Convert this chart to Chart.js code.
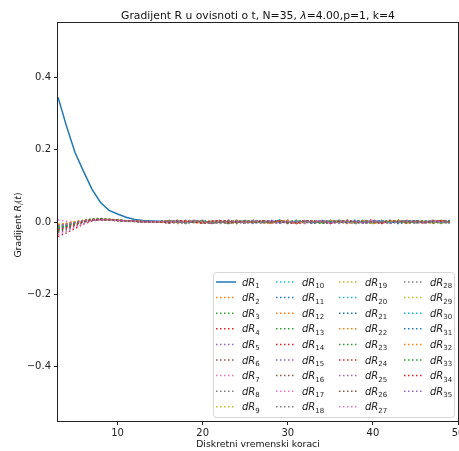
<!DOCTYPE html>
<html>
<head>
<meta charset="utf-8">
<script src="https://cdn.jsdelivr.net/npm/chart.js@4.4.1/dist/chart.umd.min.js"></script>
<style>
  html, body { margin: 0; padding: 0; background: #fff; }
  canvas { display: block; }
</style>
</head>
<body>
<canvas id="gradChart" width="459" height="451"></canvas>
<script>
// vremenski koraci (x os)
const steps = [3,4,5,6,7,8,9,10,11,12,13,14,15,16,17,18,19,20,21,22,23,24,25,26,
  27,28,29,30,31,32,33,34,35,36,37,38,39,40,41,42,43,44,45,46,47,48,49];
const xTicks = [10, 20, 30, 40, 50];
const yTicks = [-0.4, -0.2, 0, 0.2, 0.4];

// gradijenti dR_i(t), procitano sa slike
const dR1 = [.345,.265,.192,.14,.09,.054,.032,.022,.013,.007,.004,.003,.002,
  .001,.001,0,.001,0,.001,0,0,.001,0, 0,.001,0,0,.001,0,0,-.001,0,.001, 0,0,.001,0,0,-.001,0,0,.001,0, 0,.001,0,0];
const dR2 = [-.012,-.007,-.002,.003,.006,.007,.006,.004,.003,.002,.002,.001,0,
  .002,-.002,0,.004,-.002,.002,0,-.004,.002,0, .002,-.002,.004,0,-.002,.002,0,.002,-.004,0, .002,.004,-.002,0,.002,-.002,0,.004,-.002,.002, 0,-.002,.002,0];
const dR3 = [-.018,-.012,-.004,.004,.009,.01,.008,.005,.003,.002,.001,.001,.001,
  0,.004,-.002,.002,-.004,0,.002,.004,0,-.002, .002,0,-.004,.002,.004,-.002,0,.002,-.002,.004, 0,-.002,.002,-.004,0,.004,.002,-.002,0,.002, -.002,.004,0,-.002];
const dR4 = [-.04,-.03,-.018,-.006,.003,.007,.007,.005,.003,.002,.001,.001,0,
  .004,0,-.002,.002,.004,-.004,0,.002,-.002,.004, .002,-.002,0,.004,0,-.004,.002,0,.004,-.002, .002,0,-.004,.002,.004,0,-.002,.002,.004,0, -.002,.002,.004,0];
const dR5 = [-.03,-.022,-.012,-.002,.004,.007,.006,.005,.003,.002,.001,.001,.001,
  -.002,.002,0,.004,-.002,0,.002,-.004,.002,.002, 0,.004,-.002,.002,0,-.002,.004,0,.002,-.004, .002,0,.002,-.002,.004,0,-.002,.002,0,.004, -.002,0,.002,-.002];
const dR6 = [-.015,-.01,-.003,.003,.006,.008,.006,.004,.003,.002,.001,0,.001,
  .002,0,-.004,.002,.002,0,-.002,.004,0,.002, -.002,.002,0,-.004,.002,.004,0,-.002,.002,0, .004,-.002,0,.002,-.004,.002,0,.002,-.002,.004, 0,.002,-.002,0];
const dR7 = [.006,.002,.001,.004,.006,.006,.005,.004,.002,.001,.001,.001,0,
  .004,-.002,.002,0,-.002,.004,.002,-.004,0,.002, .004,0,-.002,.002,0,.002,-.004,.004,0,-.002, .002,.002,-.002,0,.004,-.004,.002,0,.002,-.002, .004,0,-.002,.002];
const dR8 = [-.01,-.006,-.001,.004,.007,.007,.005,.004,.002,.002,.001,.001,0,
  -.004,.002,.002,0,-.002,.004,0,.002,-.002,0, .004,-.002,.002,0,.002,-.004,0,.004,.002,-.002, 0,.002,-.004,.004,0,.002,-.002,0,.002,.004, -.002,.002,0,-.004];
const dR9 = [-.008,-.005,0,.004,.006,.007,.006,.004,.003,.001,.001,.001,.001,
  .002,.004,-.002,0,.002,-.002,.004,0,-.004,.002, 0,.002,.004,-.002,0,.002,-.002,.004,0,0, -.002,.004,.002,0,-.004,.002,0,.004,-.002,.002, 0,.004,-.002,.002];
const dR10 = [-.014,-.009,-.003,.003,.006,.007,.006,.004,.003,.002,.001,.001,0,
  0,-.002,.004,.002,0,-.004,.002,.002,0,.004, -.002,0,.002,-.004,.004,.002,0,-.002,.004,0, .002,-.002,.006,0,-.002,.002,.004,0,-.002,.002, .004,-.002,0,.002];
const dR11 = [-.011,-.007,-.002,.003,.006,.007,.005,.004,.002,.002,.001,.001,.001,
  .002,-.004,0,.002,.004,-.002,0,.002,-.002,.002, .004,0,-.004,.002,0,.004,-.002,.002,0,-.002, .004,0,.002,-.002,0,.002,-.004,.004,0,.002, -.002,0,.004,-.002];
const dR12 = [-.02,-.014,-.006,.002,.006,.008,.007,.005,.003,.002,.001,.001,0,
  .004,0,.002,-.002,-.004,.002,.004,0,.002,-.002, 0,.004,-.004,.002,.002,-.002,0,.004,-.002,.002, 0,-.004,.002,.004,0,-.002,.002,0,.004,-.002, .002,-.004,.002,0];
const dR13 = [-.016,-.011,-.004,.003,.008,.009,.007,.005,.003,.002,.001,.001,.001,
  -.002,.002,.004,0,-.002,.002,-.004,.002,.004,0, -.002,.002,0,.004,-.002,0,.002,-.004,.002,.004, 0,-.002,.004,0,.002,-.004,.002,.004,0,-.002, .002,0,-.002,.004];
const dR14 = [-.009,-.005,-.001,.004,.006,.007,.006,.004,.002,.002,.001,0,.001,
  .004,-.002,.002,.002,0,-.004,.004,0,-.002,.002, .002,0,-.002,.004,.002,-.004,0,.002,.004,-.002, 0,.004,-.002,.002,0,.004,-.004,.002,0,.002, .004,-.002,.002,0];
const dR15 = [-.022,-.016,-.007,.001,.005,.007,.006,.005,.003,.002,.001,.001,0,
  0,.002,-.002,.004,0,.002,-.004,0,.004,.002, -.002,.002,0,-.002,.004,0,.002,-.002,.002,0, -.004,.002,.004,-.002,0,.002,0,-.002,.004,0, .002,-.002,.002,.004];
const dR16 = [-.013,-.009,-.002,.003,.006,.007,.006,.004,.002,.002,.001,.001,.001,
  .002,0,.004,-.002,.002,-.002,0,.004,-.004,.002, 0,-.002,.004,.002,-.004,0,.002,.002,-.002,.004, .002,0,-.002,.004,-.002,0,.004,.002,-.004,0, .002,.004,0,-.002];
const dR17 = [-.035,-.026,-.015,-.004,.003,.006,.006,.004,.003,.002,.001,.001,.001,
  -.002,.004,0,.002,-.002,0,.004,-.004,.002,0, .002,-.002,.004,0,0,.002,-.004,.002,.004,-.002, .002,0,-.002,.004,0,-.004,.002,0,.002,-.002, 0,.004,-.002,.002];
const dR18 = [-.017,-.011,-.004,.003,.007,.008,.006,.004,.003,.002,.001,.001,0,
  .004,.002,-.002,0,.002,-.004,.002,.002,0,-.002, .004,-.002,0,.002,.004,0,-.002,.002,-.004,.002, .004,0,-.002,0,.002,.004,-.002,.002,0,-.004, .002,.002,0,.004];
const dR19 = [-.006,-.003,.001,.005,.007,.007,.006,.004,.002,.002,.001,.001,0,
  -.002,0,.004,.002,-.004,.002,0,.004,-.002,.002, .002,-.004,.002,0,.004,-.002,.002,0,-.002,.004, 0,.002,-.004,.002,.004,0,-.002,.002,.002,-.002, .004,0,-.002,0];
const dR20 = [-.012,-.008,-.002,.003,.006,.007,.006,.004,.003,.002,.001,.001,.001,
  .002,-.002,.004,0,-.002,.004,.002,-.002,0,.004, -.004,.002,.002,0,-.002,.004,-.002,0,.004,.002, -.002,.004,0,.006,-.002,.002,0,-.004,.002,.004, 0,-.002,.004,.002];
const dR21 = [-.019,-.013,-.005,.002,.006,.007,.006,.005,.003,.002,.001,.001,0,
  0,.004,-.004,.002,.002,0,-.002,.004,.002,-.004, 0,.002,.004,-.002,0,.002,-.002,.004,0,-.004, .002,.002,0,-.002,.004,-.002,.002,0,.004,-.002, .002,0,-.002,.004];
const dR22 = [-.01,-.006,-.001,.004,.007,.008,.006,.004,.003,.002,.001,.001,0,
  .004,0,-.002,.002,-.002,.004,0,.002,-.004,.002, .004,-.002,0,.002,-.002,0,.004,.002,-.002,0, .002,-.004,.004,0,.002,-.002,.002,.004,-.002,0, -.004,.002,0,.002];
const dR23 = [-.024,-.017,-.008,.001,.006,.008,.007,.005,.003,.002,.001,.001,.001,
  -.002,.002,0,.004,-.002,.002,.004,-.004,0,.002, -.002,.004,0,.002,-.004,.002,.002,0,-.002,.004, .002,-.002,0,.004,-.004,.002,0,.002,.004,-.002, 0,.002,-.004,.002];
const dR24 = [-.015,-.01,-.003,.003,.006,.007,.006,.004,.002,.002,.001,.001,0,
  .002,.004,-.002,.002,0,-.004,.002,.004,0,-.002, .004,.002,-.004,0,.002,-.002,.004,0,.002,-.002, 0,.004,-.002,.002,.006,-.002,0,.002,-.004,.004, .002,-.002,.004,0];
const dR25 = [-.011,-.007,-.002,.003,.006,.007,.005,.004,.003,.002,.001,0,.001,
  0,-.002,.002,.004,-.002,0,.002,-.002,.004,0, -.004,.002,.002,-.002,.004,0,-.002,.002,0,.004, -.002,0,.002,-.004,.002,.004,0,-.002,.002,0, .004,-.002,.002,-.002];
const dR26 = [-.027,-.019,-.009,0,.005,.007,.006,.005,.003,.002,.001,.001,0,
  .002,0,.004,-.002,.002,-.004,0,.002,.004,-.002, .002,0,-.002,.004,.002,-.002,0,-.004,.002,.002, .004,-.002,0,.002,-.002,.004,.002,0,-.004,.002, 0,.002,-.002,.002];
const dR27 = [-.013,-.008,-.002,.003,.006,.007,.006,.004,.003,.002,.001,.001,.001,
  -.002,.002,.004,0,-.002,.002,.002,-.004,.004,0, .002,-.002,.002,.004,-.004,0,.002,-.002,.004,.002, 0,-.002,.002,0,.004,-.004,.002,.002,0,-.002, .004,0,.002,-.002];
const dR28 = [-.009,-.005,0,.004,.006,.007,.006,.004,.002,.002,.001,.001,0,
  .004,-.002,0,.002,.002,-.004,.004,0,-.002,.002, 0,.004,-.002,.002,0,-.002,.002,.004,-.004,0, .002,.002,-.002,.004,0,-.002,.002,0,.004,-.004, .002,0,.002,-.002];
const dR29 = [-.016,-.01,-.003,.003,.007,.008,.006,.004,.003,.002,.001,.001,.001,
  0,.002,-.004,.004,.002,0,-.002,.002,.004,-.002, 0,.002,-.004,.002,.004,0,-.002,.004,-.002,.002, 0,.004,-.002,.002,-.004,.002,.004,0,-.002,.002, 0,.004,-.002,0];
const dR30 = [-.012,-.008,-.002,.003,.006,.007,.006,.004,.002,.002,.001,.001,0,
  .002,.004,-.002,0,.004,-.004,.002,0,.002,-.002, .004,0,-.002,.006,-.002,.002,0,.004,-.002,0, .004,.002,-.004,0,.002,.004,-.002,.002,0,-.002, .002,.004,0,-.002];
const dR31 = [-.018,-.012,-.005,.002,.006,.007,.006,.004,.003,.002,.001,.001,.001,
  -.002,0,.002,.004,-.004,.002,0,.002,-.002,.004, 0,-.002,.004,.002,-.002,0,.002,-.004,.004,0, .002,-.002,.004,0,-.002,.002,.002,-.004,0,.004, -.002,.002,0,.002];
const dR32 = [-.007,-.004,.001,.004,.007,.007,.006,.004,.003,.002,.001,.001,0,
  .002,-.004,.002,.004,0,-.002,.002,0,.004,-.002, .002,0,-.004,.002,.004,-.002,0,.002,-.002,.004, 0,.002,-.002,.004,-.004,0,.002,.004,-.002,0, .002,-.002,.004,0];
const dR33 = [-.014,-.009,-.003,.003,.008,.009,.007,.005,.003,.002,.001,.001,.001,
  .004,0,-.002,.002,.004,-.002,0,-.004,.002,.002, .004,-.002,0,.002,-.002,.004,.002,0,-.004,.002, 0,.004,-.002,.002,0,-.002,.004,.002,-.002,0, .004,-.004,.002,.002];
const dR34 = [-.021,-.015,-.006,.002,.006,.007,.006,.005,.003,.002,.001,.001,0,
  -.002,.004,.002,0,-.004,.002,.004,-.002,0,.002, -.002,.004,0,.002,-.002,-.002,.004,.002,0,-.004, .002,.004,0,-.002,.002,-.004,.004,.002,0,.002, -.002,.004,.002,0];
const dR35 = [-.01,-.006,-.001,.004,.006,.007,.006,.004,.003,.002,.001,.001,.001,
  .002,0,-.002,.004,.002,-.004,0,.002,.002,-.002, .004,0,.002,-.004,.002,0,.004,-.002,.002,0, -.002,.004,.002,-.002,0,.002,-.004,.002,.004,0, -.002,.002,0,.004];

const series = [dR1,dR2,dR3,dR4,dR5,dR6,dR7,dR8,dR9,dR10,dR11,dR12,dR13,dR14,dR15,dR16,dR17,dR18,
  dR19,dR20,dR21,dR22,dR23,dR24,dR25,dR26,dR27,dR28,dR29,dR30,dR31,dR32,dR33,dR34,dR35];

// matplotlib tab10
const palette = ['#1f77b4','#ff7f0e','#2ca02c','#d62728','#9467bd','#8c564b','#e377c2','#7f7f7f','#bcbd22','#17becf'];

const bad = series.map((s, i) => s.length !== steps.length ? 'dR' + (i + 1) + ':' + s.length : null).filter(Boolean);
if (bad.length) throw new Error('krive duljine: ' + bad.join(', '));

const FONT = '"DejaVu Sans", sans-serif';
const dotted = [1.5, 2.5];

const datasets = series.map((vals, i) => ({
  label: 'dR' + (i + 1),
  data: vals.map((v, k) => ({ x: steps[k], y: v })),
  borderColor: palette[i % 10],
  borderWidth: 1.5,
  borderDash: i === 0 ? [] : dotted,
  pointRadius: 0,
  fill: false,
  tension: 0,
  order: series.length - i
}));

// tekst s kurzivom i indeksima (kao mathtext)
function partsWidth(ctx, parts, size) {
  let w = 0;
  parts.forEach(p => {
    ctx.font = (p.it ? 'italic ' : '') + (p.sub ? size * 0.7 : size) + 'px ' + FONT;
    w += ctx.measureText(p.t).width;
  });
  return w;
}
function drawParts(ctx, parts, x, y, size) {
  parts.forEach(p => {
    ctx.font = (p.it ? 'italic ' : '') + (p.sub ? size * 0.7 : size) + 'px ' + FONT;
    ctx.fillText(p.t, x, p.sub ? y + size * 0.25 : y);
    x += ctx.measureText(p.t).width;
  });
}

const legendCols = [216, 276, 339, 404];

const decor = {
  id: 'decor',
  afterDatasetsDraw(chart) {
    const ctx = chart.ctx;
    ctx.save();
    // legenda
    ctx.beginPath();
    ctx.roundRect(213.5, 272.5, 241, 145, 3);
    ctx.fillStyle = 'rgba(255,255,255,0.8)';
    ctx.fill();
    ctx.strokeStyle = 'rgba(204,204,204,0.8)';
    ctx.lineWidth = 1;
    ctx.stroke();
    ctx.textAlign = 'left';
    ctx.textBaseline = 'alphabetic';
    series.forEach((s, i) => {
      const col = Math.floor(i / 9), row = i % 9;
      const hx = legendCols[col];
      const y = 282 + row * 15.6;
      ctx.beginPath();
      ctx.setLineDash(i === 0 ? [] : dotted);
      ctx.strokeStyle = palette[i % 10];
      ctx.lineWidth = 1.5;
      ctx.moveTo(hx, y);
      ctx.lineTo(hx + 20, y);
      ctx.stroke();
      ctx.setLineDash([]);
      ctx.fillStyle = '#222';
      drawParts(ctx, [{ t: 'dR', it: true }, { t: String(i + 1), sub: true }], hx + 26, y + 3.5, 10);
    });
    ctx.restore();
  },
  afterDraw(chart) {
    const ctx = chart.ctx;
    const a = chart.chartArea;
    ctx.save();
    // okvir
    ctx.strokeStyle = '#222';
    ctx.lineWidth = 1;
    ctx.strokeRect(a.left - 0.5, a.top - 0.5, a.right - a.left + 1, a.bottom - a.top + 1);
    ctx.fillStyle = '#111';
    ctx.textBaseline = 'alphabetic';
    const cx = (a.left + a.right) / 2;
    // naslov
    const title = [{ t: 'Gradijent R u ovisnoti o t, N=35, ' }, { t: 'λ', it: true }, { t: '=4.00,p=1, k=4' }];
    let w = partsWidth(ctx, title, 10.8);
    drawParts(ctx, title, cx - w / 2, 18.5, 10.8);
    // x os
    const xl = [{ t: 'Diskretni vremenski koraci' }];
    w = partsWidth(ctx, xl, 9.3);
    drawParts(ctx, xl, cx - w / 2, 447, 9.3);
    // y os
    const yl = [{ t: 'Gradijent ' }, { t: 'R', it: true }, { t: 'i', it: true, sub: true }, { t: '(' }, { t: 't', it: true }, { t: ')' }];
    w = partsWidth(ctx, yl, 9.3);
    ctx.translate(21, (a.top + a.bottom) / 2 + 3);
    ctx.rotate(-Math.PI / 2);
    drawParts(ctx, yl, -w / 2, 0, 9.3);
    ctx.restore();
  }
};

const tickFont = { family: FONT, size: 10 };

new Chart(document.getElementById('gradChart').getContext('2d'), {
  type: 'line',
  data: { datasets },
  options: {
    responsive: false,
    animation: false,
    devicePixelRatio: 1,
    layout: { padding: { top: 23, right: 1, left: 0, bottom: 0 } },
    plugins: {
      legend: { display: false },
      title: { display: false },
      tooltip: { enabled: false }
    },
    scales: {
      x: {
        type: 'linear',
        min: 3,
        max: 50,
        afterBuildTicks: s => { s.ticks = xTicks.map(v => ({ value: v })); },
        afterFit: s => { s.height = 30; s.paddingLeft = 0; s.paddingRight = 0; },
        grid: { drawOnChartArea: false, tickLength: 4, color: '#222', lineWidth: 1 },
        border: { display: false },
        ticks: { font: tickFont, color: '#222', padding: 2, maxRotation: 0, autoSkip: false }
      },
      y: {
        type: 'linear',
        min: -0.55,
        max: 0.55,
        afterBuildTicks: s => { s.ticks = yTicks.map(v => ({ value: v })); },
        afterFit: s => { s.width = 58; s.paddingTop = 0; s.paddingBottom = 0; },
        grid: { drawOnChartArea: false, tickLength: 4, color: '#222', lineWidth: 1 },
        border: { display: false },
        ticks: {
          font: tickFont, color: '#222', padding: 3,
          callback: v => v.toFixed(1).replace('-', '\u2212')
        }
      }
    }
  },
  plugins: [decor]
});
</script>
</body>
</html>
